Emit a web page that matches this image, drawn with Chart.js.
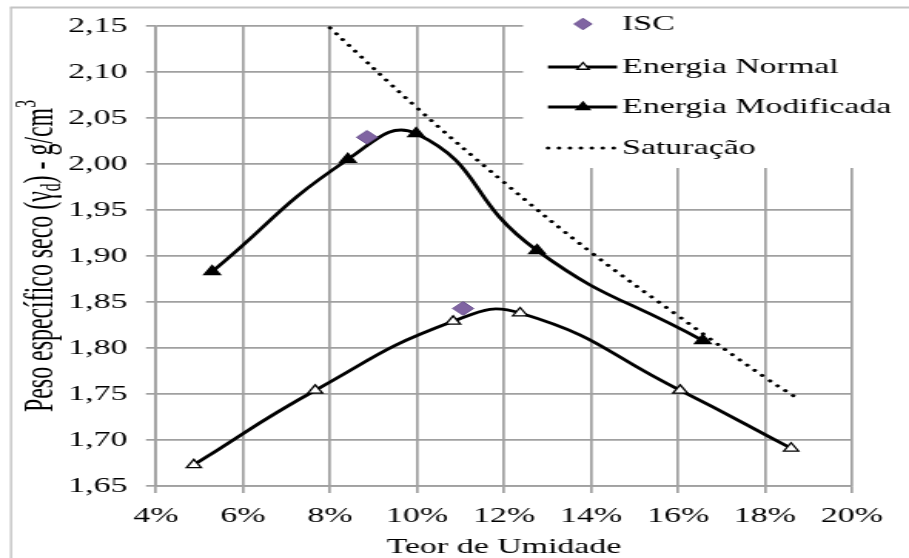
<!DOCTYPE html>
<html>
<head>
<meta charset="utf-8">
<script src="https://cdn.jsdelivr.net/npm/chart.js@4"></script>
<style>
  html, body { margin: 0; padding: 0; background: #fff; overflow: hidden; }
  /* the original picture is stretched sideways, so the canvas is too */
  #chart { display: block; transform: scaleX(1.5407); transform-origin: 0 0; }
</style>
</head>
<body>
<canvas id="chart" width="590" height="558"></canvas>
<script>
// ===========================
// Data
// ===========================

const iscX = [8.85, 11.06];
const iscY = [2.029, 1.843];

const normalX = [4.87, 7.66, 10.83, 12.37, 16.05, 18.6];
const normalY = [1.673, 1.754, 1.829, 1.838, 1.754, 1.691];

const modX = [5.29, 8.41, 9.98, 12.76, 16.57];
const modY = [1.883, 2.005, 2.033, 1.906, 1.808];

const satX = [8.0, 10, 12, 14, 16, 18, 18.69];
const satY = [2.148, 2.061, 1.980, 1.904, 1.835, 1.768, 1.747];

const xTicks = [4, 6, 8, 10, 12, 14, 16, 18, 20];
const yTicks = [1.65, 1.70, 1.75, 1.80, 1.85, 1.90, 1.95, 2.00, 2.05, 2.10, 2.15];

const legendLabels = ["ISC", "Energia Normal", "Energia Modificada", "Saturação"];

// ===========================
// Helpers
// ===========================

const SX = 1.5407;           // horizontal stretch of the reference
const FONT = '"Liberation Serif", "Times New Roman", serif';
const GRID = "#a0a0a0";

function pts(xs, ys) {
  return xs.map((x, i) => ({ x: x, y: ys[i] }));
}

// white page + outer chart frame
const framePlugin = {
  id: "frame",
  beforeDraw(chart) {
    const c = chart.ctx;
    c.save();
    c.fillStyle = "#fff";
    c.fillRect(0, 0, chart.width, chart.height);
    c.strokeStyle = "#c4c4c4";
    c.lineWidth = 2;
    c.beginPath();
    c.moveTo(10 / SX, 7.5);
    c.lineTo(chart.width, 7.5);
    c.stroke();
    c.lineWidth = 1.4;
    c.beginPath();
    c.moveTo(11 / SX, 7.5);
    c.lineTo(11 / SX, chart.height);
    c.stroke();
    c.restore();
  },
};

// rotated y title with subscript / superscript
const yTitlePlugin = {
  id: "yTitle",
  afterDraw(chart) {
    const c = chart.ctx;
    const size = 27;
    const parts = [
      { t: "Peso específico seco (γ", s: size, dy: 0 },
      { t: "d", s: size * 0.66, dy: size * 0.16 },
      { t: ") - g/cm", s: size, dy: 0 },
      { t: "3", s: size * 0.66, dy: -size * 0.42 },
    ];
    c.save();
    let total = 0;
    parts.forEach((p) => {
      c.font = p.s + "px " + FONT;
      p.w = c.measureText(p.t).width;
      total += p.w;
    });
    const k = 312 / total;
    c.translate(34.4, 256);
    c.rotate(-Math.PI / 2);
    c.scale(k, 1);
    c.fillStyle = "#000";
    c.textBaseline = "alphabetic";
    c.textAlign = "left";
    let x = -total / 2;
    parts.forEach((p) => {
      c.font = p.s + "px " + FONT;
      c.fillText(p.t, x, p.dy);
      x += p.w;
    });
    c.restore();
  },
};

// legend box drawn over the top right of the grid
const legendPlugin = {
  id: "boxLegend",
  afterDraw(chart) {
    const c = chart.ctx;
    const left = 523 / SX;
    c.save();
    c.fillStyle = "#fff";
    c.fillRect(left, 9, chart.width - left, 159);

    const rows = [24, 67, 107, 148];
    const x0 = 548 / SX, x1 = 617 / SX, xm = 583 / SX, xt = 622 / SX;

    chart.data.datasets.forEach((ds, i) => {
      const y = rows[i];
      if (ds.showLine !== false) {
        c.beginPath();
        c.strokeStyle = ds.borderColor;
        c.lineWidth = ds.borderWidth;
        c.lineCap = ds.borderCapStyle || "butt";
        c.setLineDash(ds.borderDash || []);
        c.moveTo(x0, y);
        c.lineTo(x1, y);
        c.stroke();
        c.setLineDash([]);
      }
      if (ds.pointRadius > 0) {
        c.fillStyle = ds.pointBackgroundColor;
        c.strokeStyle = ds.pointBorderColor;
        c.lineWidth = ds.pointBorderWidth;
        Chart.helpers.drawPoint(c, {
          pointStyle: ds.pointStyle,
          radius: ds.pointRadius - 1,
          rotation: 0,
          borderWidth: ds.pointBorderWidth,
        }, xm, y);
      }
      c.fillStyle = "#000";
      c.font = "22px " + FONT;
      c.textBaseline = "middle";
      c.textAlign = "left";
      c.fillText(legendLabels[i], xt, y);
    });
    c.restore();
  },
};

// ===========================
// Create Chart
// ===========================

const ctx = document.getElementById("chart").getContext("2d");

new Chart(ctx, {
  type: "line",
  data: {
    datasets: [
      {
        label: legendLabels[0],
        data: pts(iscX, iscY),
        showLine: false,
        pointStyle: "rectRot",
        pointRadius: 6.8,
        pointBackgroundColor: "#8064a2",
        pointBorderColor: "#6b5290",
        pointBorderWidth: 1,
        borderColor: "#8064a2",
      },
      {
        label: legendLabels[1],
        data: pts(normalX, normalY),
        borderColor: "#000",
        borderWidth: 2.8,
        tension: 0.5,
        pointStyle: "triangle",
        pointRadius: 5.5,
        pointBackgroundColor: "#fff",
        pointBorderColor: "#000",
        pointBorderWidth: 1.3,
      },
      {
        label: legendLabels[2],
        data: pts(modX, modY),
        borderColor: "#000",
        borderWidth: 2.8,
        tension: 0.5,
        pointStyle: "triangle",
        pointRadius: 6,
        pointBackgroundColor: "#000",
        pointBorderColor: "#000",
        pointBorderWidth: 1.3,
      },
      {
        label: legendLabels[3],
        data: pts(satX, satY),
        borderColor: "#000",
        borderWidth: 3,
        borderDash: [0.1, 7],
        borderCapStyle: "round",
        tension: 0.4,
        pointRadius: 0,
      },
    ],
  },

  options: {
    responsive: false,
    animation: false,
    layout: { padding: { top: 26, right: 37, left: 0, bottom: 0 } },

    plugins: {
      legend: { display: false },
      tooltip: { enabled: false },
    },

    scales: {
      x: {
        type: "linear",
        min: xTicks[0],
        max: xTicks[xTicks.length - 1],
        afterFit: (scale) => { scale.height = 72; },
        afterBuildTicks: (scale) => { scale.ticks = xTicks.map((v) => ({ value: v })); },
        ticks: {
          callback: (v) => v + "%",
          font: { family: FONT, size: 22 },
          color: "#000",
          padding: 10,
          maxRotation: 0,
        },
        grid: { color: GRID, lineWidth: 1.7, tickLength: 7 },
        border: { color: GRID, width: 1.7 },
        title: {
          display: true,
          text: "Teor de Umidade",
          font: { family: FONT, size: 22, lineHeight: 1 },
          color: "#000",
          padding: 0,
        },
      },
      y: {
        min: yTicks[0],
        max: yTicks[yTicks.length - 1],
        afterFit: (scale) => { scale.width = 156 / SX; },
        afterBuildTicks: (scale) => { scale.ticks = yTicks.map((v) => ({ value: v })); },
        ticks: {
          callback: (v) => v.toFixed(2).replace(".", ","),
          font: { family: FONT, size: 22 },
          color: "#000",
          padding: 12,
        },
        grid: { color: GRID, lineWidth: 1.7, tickLength: 6.5 },
        border: { color: GRID, width: 1.7 },
      },
    },
  },

  plugins: [framePlugin, yTitlePlugin, legendPlugin],
});
</script>
</body>
</html>
